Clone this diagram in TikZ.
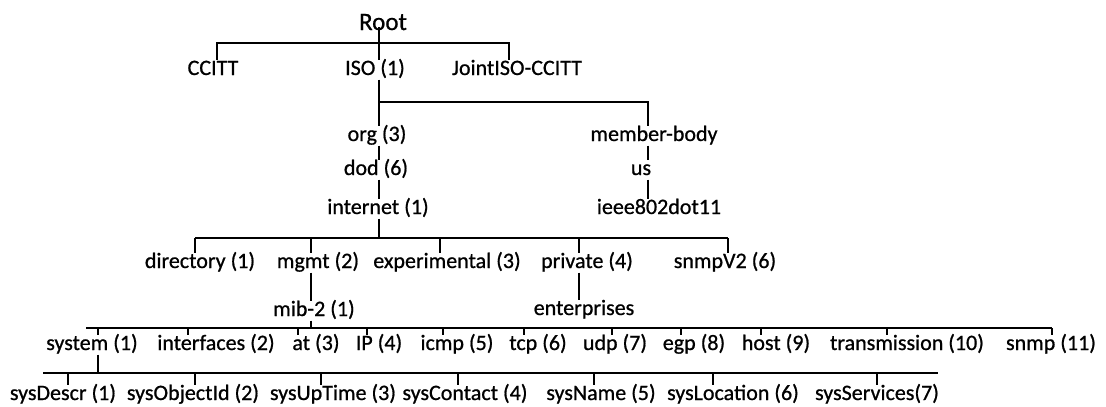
\documentclass[tikz,border=0pt]{standalone}
\usepackage{fontspec}
\setmainfont{Carlito}
\newfontfamily\diagfont{Carlito}[FakeBold=0.8]
\begin{document}
\begin{tikzpicture}[x=1pt,y=-1pt,
  lbl/.style={font=\diagfont\fontsize{22}{26}\selectfont, inner sep=0pt, anchor=base,
              text height=15pt, text depth=4.5pt},
  link/.style={line width=1.8pt, black}]
\useasboundingbox (0,0) rectangle (1106,407);

% ---- top levels
\node[lbl, font=\diagfont\fontsize{25}{30}\selectfont, text height=17pt, text depth=0pt] (root) at (383,30) {Root};
\node[lbl] (ccitt) at (213,75) {CCITT};
\node[lbl] (iso)   at (375,75) {ISO (1)};
\node[lbl] (joint) at (517,75) {JointISO-CCITT};

\node[lbl] (org)      at (377,141) {org (3)};
\node[lbl] (dod)      at (376,175) {dod (6)};
\node[lbl] (internet) at (378,214) {internet (1)};
\node[lbl] (member)   at (654,141) {member-body};
\node[lbl] (us)       at (641,175) {us};
\node[lbl] (ieee)     at (659,214) {ieee802dot11};

% ---- internet subtree
\node[lbl] (directory)    at (200,268) {directory (1)};
\node[lbl] (mgmt)         at (318,268) {mgmt (2)};
\node[lbl] (experimental) at (447,268) {experimental (3)};
\node[lbl] (private)      at (587,268) {private (4)};
\node[lbl] (snmpv2)       at (725,268) {snmpV2 (6)};

\node[lbl] (mib)         at (314,316) {mib-2 (1)};
\node[lbl] (enterprises) at (584,315) {enterprises};

% ---- mib-2 groups
\node[lbl] (system)       at (92,350)   {system (1)};
\node[lbl] (interfaces)   at (216,350)  {interfaces (2)};
\node[lbl] (atgrp)        at (316,350)  {at (3)};
\node[lbl] (ip)           at (379,350)  {IP (4)};
\node[lbl] (icmp)         at (457,350)  {icmp (5)};
\node[lbl] (tcp)          at (538,350)  {tcp (6)};
\node[lbl] (udp)          at (615,350)  {udp (7)};
\node[lbl] (egp)          at (694,350)  {egp (8)};
\node[lbl] (host)         at (776,350)  {host (9)};
\node[lbl] (transmission) at (907,350)  {transmission (10)};
\node[lbl] (snmp)         at (1051,350) {snmp (11)};

% ---- system group objects
\node[lbl] (sysdescr)    at (63,400)  {sysDescr (1)};
\node[lbl] (sysobjectid) at (193,400) {sysObjectId (2)};
\node[lbl] (sysuptime)   at (333,400) {sysUpTime (3)};
\node[lbl] (syscontact)  at (465,400) {sysContact (4)};
\node[lbl] (sysname)     at (601,400) {sysName (5)};
\node[lbl] (syslocation) at (733,400) {sysLocation (6)};
\node[lbl] (sysservices) at (877,400) {sysServices(7)};

% ---- level 1: Root -> CCITT / ISO / JointISO-CCITT
\coordinate (a0) at (379,43);
\coordinate (aL) at (217,43);
\coordinate (aR) at (509,43);
\draw[link] ([yshift=3pt]a0 |- root.base) -- (a0 |- iso.north);
\draw[link] (aL |- ccitt.north) -- (aL) -- (aR) -- (aR |- joint.north);

% ---- ISO -> org / member-body
\coordinate (b0) at (379,102);
\coordinate (bR) at (648,102);
\draw[link] (b0 |- iso.south) -- (b0 |- org.north);
\draw[link] (b0) -- (bR) -- (bR |- member.north);
\draw[link] (b0 |- org.south) -- (b0 |- dod.north);
\draw[link] (b0 |- dod.south) -- (b0 |- internet.north);
\draw[link] (bR |- member.south) -- (bR |- us.north);
\draw[link] (bR |- us.south) -- (bR |- ieee.north);

% ---- internet -> children
\coordinate (c0) at (379,238);
\coordinate (cL) at (195,238);
\coordinate (cR) at (728,238);
\draw[link] (b0 |- internet.south) -- (c0);
\draw[link] (cL) -- (cR);
\foreach \x/\n in {195/directory, 311/mgmt, 440/experimental, 579/private, 728/snmpv2}{
  \coordinate (c-\n) at (\x,238);
  \draw[link] (c-\n) -- (c-\n |- \n.north);
}
\draw[link] (c-mgmt |- mgmt.south) -- (c-mgmt |- mib.north);
\draw[link] (c-private |- private.south) -- (c-private |- enterprises.north);

% ---- mib-2 -> groups
\coordinate (dL) at (86,328);
\coordinate (dR) at (1052,328);
\draw[link] (c-mgmt |- mib.south) -- (c-mgmt |- dL);
\draw[link] (dL) -- (dR);
\foreach \x/\n in {98/system, 188/interfaces, 298/atgrp, 367/ip, 443/icmp, 524/tcp,
                   612/udp, 681/egp, 761/host, 887/transmission, 1052/snmp}{
  \coordinate (d-\n) at (\x,328);
  \draw[link] (d-\n) -- (d-\n |- \n.north);
}

% ---- system -> objects
\coordinate (eL) at (43,373);
\coordinate (eR) at (938,373);
\draw[link] (d-system |- system.south) -- (d-system |- eL);
\draw[link] (eL) -- (eR);
\foreach \x/\n in {68/sysdescr, 195/sysobjectid, 321/sysuptime, 458/syscontact,
                   594/sysname, 713/syslocation, 877/sysservices}{
  \coordinate (e-\n) at (\x,373);
  \draw[link] (e-\n) -- (e-\n |- \n.north);
}
\end{tikzpicture}
\end{document}
